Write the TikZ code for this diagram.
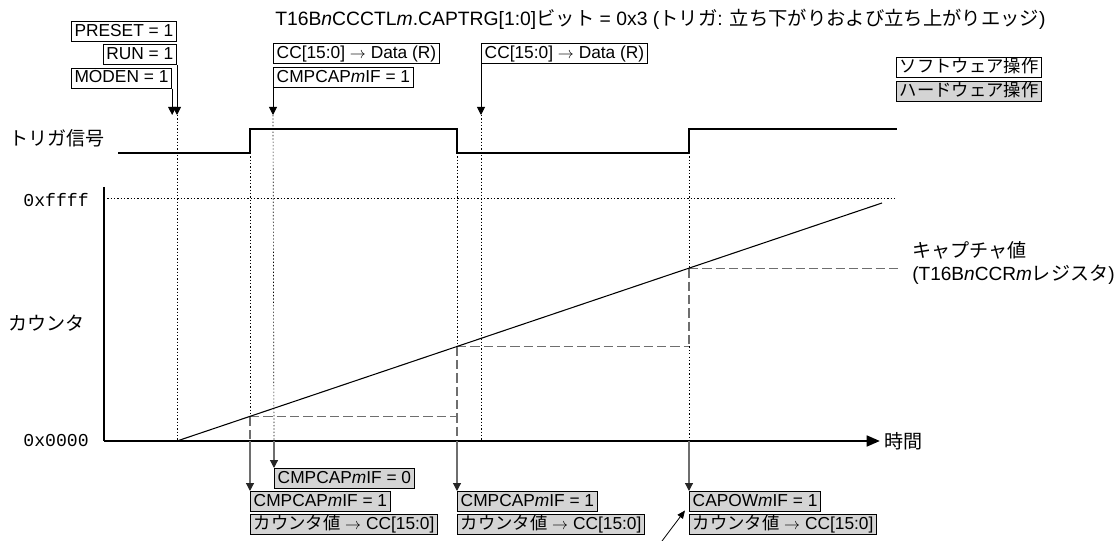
\documentclass[tikz,border=0pt]{standalone}
\usepackage{fontspec}
\setmainfont{Liberation Sans}
\setmonofont{Liberation Mono}
\newfontfamily\jpfont{Noto Sans CJK JP}
\newcommand{\jtext}[1]{{\jpfont #1}}
\usetikzlibrary{arrows.meta, positioning}
\definecolor{hwgray}{HTML}{D4D4D4}
\definecolor{capgray}{HTML}{6E6E6E}

\begin{document}
\begin{tikzpicture}[
    x=0.75pt, y=-0.75pt,
    every node/.style={font=\fontsize{13}{15}\selectfont, inner sep=0pt},
    label text/.style={font=\fontsize{14.3}{17}\selectfont},
    swbox/.style={draw, fill=white, line width=0.6pt, minimum height=15pt, inner xsep=2.5pt, text height=9.5pt, text depth=2.5pt},
    hwbox/.style={swbox, fill=hwgray},
    evarrow/.style={line width=0.7pt, -{Triangle[length=6pt, width=6pt]}},
    hwarrow/.style={capgray, line width=0.9pt, -{Triangle[length=6pt, width=6pt, color=black!85]}},
    dotline/.style={line width=0.5pt, dash pattern=on 1pt off 1.5pt},
    capline/.style={capgray, line width=0.9pt, dash pattern=on 7pt off 3pt},
    sigline/.style={line width=1pt},
    axisline/.style={line width=2pt}
]
    \useasboundingbox (0,0) rectangle (1120,541);

    \node[anchor=west, font=\fontsize{14.5}{17}\selectfont] (title) at (275,19) {T16B\textit{n}CCCTL\textit{m}.CAPTRG[1:0]\jtext{ビット} = 0x3 (\jtext{トリガ}: \jtext{立ち下がりおよび立ち上がりエッジ})};

    \node[swbox, anchor=north east] (preset) at (177,21) {PRESET = 1};
    \node[swbox, below=2pt of preset.south east, anchor=north east] (run) {RUN = 1};
    \node[swbox, anchor=north west] (moden) at ([yshift=-2pt]run.south -| preset.west) {MODEN = 1};
    \node[swbox, anchor=north west] (cc1) at (273,43.5) {CC[15:0] $\rightarrow$ Data (R)};
    \node[swbox, below=2pt of cc1.south west, anchor=north west] (cmp1) {CMPCAP\textit{m}IF = 1};
    \node[swbox, anchor=north west] (cc2) at (481,43.5) {CC[15:0] $\rightarrow$ Data (R)};

    \node[swbox, anchor=north west] (legsw) at (896,57) {\jtext{ソフトウェア操作}};
    \node[hwbox, below=2.5pt of legsw.south west, anchor=north west] (leghw) {\jtext{ハードウェア操作}};

    \coordinate (tipline) at (0,115);
    \coordinate (amoden) at (moden.south east |- tipline);
    \coordinate (arun) at (run.south east |- tipline);
    \coordinate (acmp) at (cmp1.south west |- tipline);
    \coordinate (acc) at (cc2.south west |- tipline);

    \draw[evarrow] (moden.south east) -- (amoden);
    \draw[evarrow] (run.south east) -- (arun);
    \draw[evarrow] (cmp1.south west) -- (acmp);
    \draw[evarrow] (cc2.south west) -- (acc);

    \node[label text, anchor=west] (trig) at (9,138) {\jtext{トリガ信号}};
    \node[label text, anchor=west] (cnt) at (8,323) {\jtext{カウンタ}};
    \node[anchor=east, font=\fontsize{13.6}{15}\ttfamily] (vmax) at (89,200) {0xffff};
    \node[anchor=east, font=\fontsize{13.6}{15}\ttfamily] (vmin) at (89,441) {0x0000};

    \coordinate (org) at (104,441);
    \coordinate (ytop) at (104,187);
    \coordinate (tend) at (880,441);
    \coordinate (e0) at (177,441);
    \coordinate (e1) at (250,441);
    \coordinate (e2) at (274,441);
    \coordinate (e3) at (457,441);
    \coordinate (e4) at (481,441);
    \coordinate (e5) at (689,441);
    \coordinate (cap1) at (250,416.7);
    \coordinate (cap2) at (457,346.5);
    \coordinate (cap3) at (689,268.2);
    \coordinate (cend) at (882,203);

    \draw[sigline] (118,153) -- (250,153) -- (250,129) -- (457,129) -- (457,153) -- (689,153) -- (689,129) -- (897,129);

    \draw[dotline] (104,198) -- (897,198);
    \draw[dotline] (arun) -- (e0);
    \draw[dotline] (acmp) -- (e2);
    \draw[dotline] (acc) -- (e4);
    \draw[dotline] (250,153) -- (cap1);
    \draw[dotline] (457,153) -- (cap2);
    \draw[dotline] (689,153) -- (cap3);
    \draw[dotline] (689,346.5) -- (e5);

    \draw[capline] (cap1) -- (cap1 -| e3);
    \draw[capline] (cap1) -- (e1);
    \draw[capline] (cap2) -- (cap2 -| e5);
    \draw[capline] (cap2) -- (e3);
    \draw[capline] (cap3) -- (900,268.2);
    \draw[capline] (cap3) -- (689,346.5);

    \draw[line width=0.8pt] (e0) -- (cend);

    \draw[axisline] (ytop) -- (org);
    \draw[axisline, -{Triangle[length=10pt, width=8pt]}] (org) -- (tend);
    \node[label text, anchor=west] (tlabel) at (884,441) {\jtext{時間}};

    \node[label text, anchor=west, align=left] (capval) at (912,263) {\jtext{キャプチャ値}\\(T16B\textit{n}CCR\textit{m}\jtext{レジスタ})};

    \node[hwbox, anchor=north west] (clr1) at (274,468) {CMPCAP\textit{m}IF = 0};
    \node[hwbox, anchor=north west] (set1) at (250,491) {CMPCAP\textit{m}IF = 1};
    \node[hwbox, below=2pt of set1.south west, anchor=north west] (cnt1) {\jtext{カウンタ値} $\rightarrow$ CC[15:0]};
    \node[hwbox, anchor=north west] (set2) at (457,491) {CMPCAP\textit{m}IF = 1};
    \node[hwbox, below=2pt of set2.south west, anchor=north west] (cnt2) {\jtext{カウンタ値} $\rightarrow$ CC[15:0]};
    \node[hwbox, anchor=north west] (set3) at (689,491) {CAPOW\textit{m}IF = 1};
    \node[hwbox, below=2pt of set3.south west, anchor=north west] (cnt3) {\jtext{カウンタ値} $\rightarrow$ CC[15:0]};

    \draw[hwarrow] (e1) -- (set1.north west);
    \draw[hwarrow] (e2) -- (clr1.north west);
    \draw[hwarrow] (e3) -- (set2.north west);
    \draw[hwarrow] (e5) -- (set3.north west);

    \coordinate (notetail) at (662,541);
    \draw[line width=0.6pt, -{Triangle[length=6pt, width=5pt]}] (notetail) -- ([xshift=-3pt, yshift=1pt]set3.south west);
\end{tikzpicture}
\end{document}
